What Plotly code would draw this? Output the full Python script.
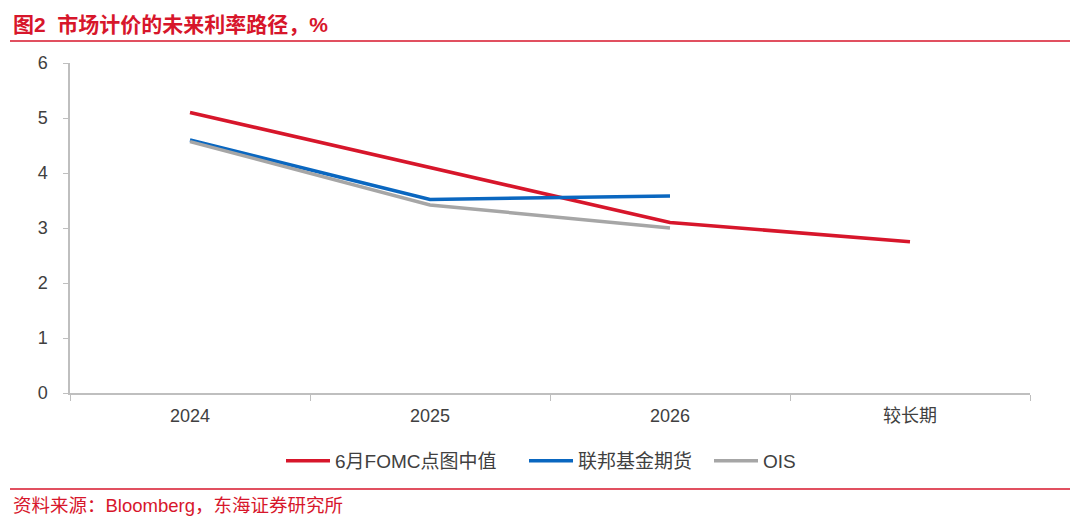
import plotly.graph_objects as go

categories = ["2024", "2025", "2026", "较长期"]
fomc_dot = [5.1, 4.1, 3.1, 2.75]
fed_futures = [4.6, 3.52, 3.58, None]
ois = [4.57, 3.42, 3.0, None]
series_names = ["6月FOMC点图中值", "联邦基金期货", "OIS"]
y_ticks = [0, 1, 2, 3, 4, 5, 6]

title_text = "图2  市场计价的未来利率路径，%"
source_text = "资料来源：Bloomberg，东海证券研究所"

RED = "#D7162B"
BLUE = "#0A67C0"
GRAY = "#A6A6A6"
TXT = "#404040"
FONT = "Liberation Sans, Arial, Noto Sans CJK SC, sans-serif"

W, H = 1080, 531
L, R, T, B = 70, 1030, 63, 393

def px(x):
    return (x - L) / (R - L)

def py(y):
    return (B - y) / (B - T)

legend_ids = ["legend", "legend2", "legend3"]
legend_left = [288, 531, 716]
LEG_OFF = 7

fig = go.Figure()
for name, vals, col, lid in zip(series_names, [fomc_dot, fed_futures, ois],
                                [RED, BLUE, GRAY], legend_ids):
    fig.add_trace(go.Scatter(
        x=categories, y=vals, name=name, mode="lines",
        line=dict(color=col, width=3.5), connectgaps=False, legend=lid,
    ))

leg_common = dict(orientation="h", yanchor="middle", y=py(461), xanchor="left",
                  font=dict(size=19, color=TXT), itemwidth=44,
                  bgcolor="rgba(0,0,0,0)")
legends = {}
for lid, lx in zip(legend_ids, legend_left):
    legends[lid] = dict(leg_common, x=px(lx - LEG_OFF))

fig.update_layout(
    width=W, height=H,
    margin=dict(l=L, r=W - R, t=T, b=H - B, pad=0),
    paper_bgcolor="white", plot_bgcolor="white",
    font=dict(family=FONT, size=18, color=TXT),
    showlegend=True,
    xaxis=dict(
        type="category", categoryorder="array", categoryarray=categories,
        range=[-0.5, 3.5], showgrid=False, showline=True, linecolor="#BFBFBF",
        linewidth=1.5, ticks="outside", tickson="boundaries", ticklen=6,
        tickcolor="#BFBFBF", tickwidth=1, tickfont=dict(size=18, color=TXT),
        zeroline=False, fixedrange=True, ticklabelstandoff=6,
    ),
    yaxis=dict(
        range=[0, 6], tickvals=y_ticks, showgrid=False, showline=True,
        linecolor="#BFBFBF", linewidth=1.5, ticks="outside", ticklen=5,
        tickcolor="#BFBFBF", tickfont=dict(size=18, color=TXT),
        zeroline=False, ticklabelstandoff=12, fixedrange=True,
    ),
    shapes=[
        dict(type="line", xref="paper", yref="paper", x0=px(10), x1=px(1070),
             y0=py(41), y1=py(41), line=dict(color=RED, width=1.5)),
        dict(type="line", xref="paper", yref="paper", x0=px(10), x1=px(1070),
             y0=py(489), y1=py(489), line=dict(color=RED, width=1.5)),
    ],
    annotations=[
        dict(text="<b>" + title_text + "</b>", xref="paper", yref="paper",
             x=px(11), y=py(24), xanchor="left", yanchor="middle", showarrow=False,
             font=dict(size=21, color=RED, family=FONT)),
        dict(text=source_text, xref="paper", yref="paper",
             x=px(11), y=py(506), xanchor="left", yanchor="middle", showarrow=False,
             font=dict(size=18.5, color=RED, family=FONT)),
    ],
    **legends,
)

fig.write_html("out.html", config={"displayModeBar": False},
               post_script="document.body.style.margin='0';")
